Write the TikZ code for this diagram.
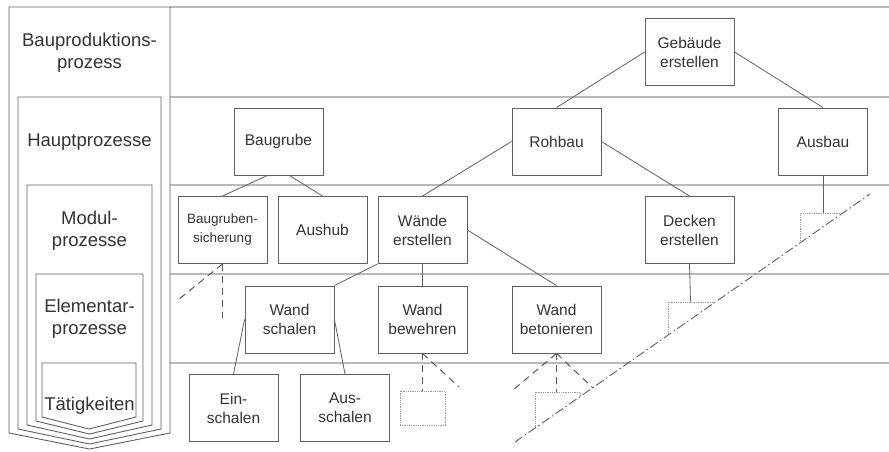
\documentclass[tikz,border=0pt]{standalone}
\usepackage{fontspec}
\setmainfont{Liberation Sans}
\usepackage{tikz}
\usetikzlibrary{
    positioning,
    calc
}

\begin{document}
\begin{tikzpicture}[x=1pt, y=-1pt,
    prozess/.style={draw=gray!75!black, line width=0.9pt, minimum width=89pt, minimum height=67pt,
        inner sep=1pt, align=center, text=black!80, font=\fontsize{15.5}{19}\selectfont},
    stub/.style={draw=gray!80, densely dotted, line width=0.8pt, minimum width=45pt, minimum height=34pt, inner sep=0pt},
    kante/.style={draw=gray!75!black, line width=0.8pt},
    offen/.style={draw=gray!70!black, line width=1pt, dash pattern=on 7pt off 5pt},
    trenn/.style={draw=gray!75!black, line width=0.9pt, dash pattern=on 9pt off 3pt on 1.5pt off 3pt},
    ebene/.style={draw=gray!55, line width=1.3pt},
    stufe/.style={draw=gray!75!black, line width=0.9pt},
    stufentext/.style={align=center, text=black!80, font=\fontsize{18.5}{22}\selectfont}]
    \useasboundingbox (0,0) rectangle (889,451);

    % Ebenen
    \foreach \y in {7,97,185,274,363} {
        \draw[ebene] (170,\y) -- (889,\y);
    }

    % verschachtelte Stufen links
    \foreach \l/\r/\t/\c/\p in {9/170/7/433/449, 18/161/97/429/444, 27/152/185/425/439, 36/143/274/421/434, 42/136/363/417/429} {
        \draw[stufe] (\l,\t) -- (\r,\t) -- (\r,\c) -- ({(\l+\r)/2},\p) -- (\l,\c) -- cycle;
    }
    \node[stufentext] (bpp) at (89.5,53) {Bauproduktions-\\prozess};
    \node[stufentext] (hp) at (89.5,142) {Hauptprozesse};
    \node[stufentext] (mp) at (89.5,231) {Modul-\\prozesse};
    \node[stufentext] (ep) at (89.5,319) {Elementar-\\prozesse};
    \node[stufentext] (tk) at (89.5,406) {Tätigkeiten};

    % Prozesse
    \node[prozess] (gebaeude) at (689.5,52) {Gebäude\\erstellen};
    \node[prozess] (baugrube) at (278.5,141.5) {Baugrube};
    \node[prozess] (rohbau) at (556.5,141.5) {Rohbau};
    \node[prozess] (ausbau) at (823,141.5) {Ausbau};
    \node[prozess, font=\fontsize{13.5}{19}\selectfont] (sicherung) at (222.5,230) {Baugruben-\\sicherung};
    \node[prozess] (aushub) at (322.5,230) {Aushub};
    \node[prozess] (waende) at (422.5,230) {Wände\\erstellen};
    \node[prozess] (decken) at (689.5,230) {Decken\\erstellen};
    \node[prozess] (schalen) at (289.5,319.5) {Wand\\schalen};
    \node[prozess] (bewehren) at (422.5,319.5) {Wand\\bewehren};
    \node[prozess] (betonieren) at (556.5,319.5) {Wand\\betonieren};
    \node[prozess] (einschalen) at (233.5,408) {Ein-\\schalen};
    \node[prozess] (ausschalen) at (345,408) {Aus-\\schalen};

    \node[stub] (bewehrenstub) at (422.5,408) {};

    % Trennlinie
    \coordinate (diagunten) at (515,442);
    \coordinate (diagoben) at (870,194);
    \draw[trenn] (diagunten) -- (diagoben);

    \begin{scope}
        \clip (diagunten) -- (diagoben) -- (870,180) -- (500,180) -- (500,442) -- cycle;
        \node[stub] (betonierenstub) at (557.5,409) {};
        \node[stub] (deckenstub) at (690.5,319) {};
        \node[stub] (ausbaustub) at (823,230) {};
    \end{scope}

    % Kanten
    \draw[kante] (gebaeude.west) -- (rohbau.north);
    \draw[kante] (gebaeude.east) -- (ausbau.north);
    \draw[kante] ([xshift=-11pt]baugrube.south) -- (sicherung.north);
    \draw[kante] ([xshift=11pt]baugrube.south) -- (aushub.north);
    \draw[kante] (rohbau.west) -- (waende.north);
    \draw[kante] (rohbau.east) -- (decken.north);
    \draw[kante] (waende.south west) -- (schalen.north east);
    \draw[kante] (waende.south) -- (bewehren.north);
    \draw[kante] (waende.east) -- (betonieren.north);
    \draw[kante] (schalen.west) -- (einschalen.north);
    \draw[kante] (schalen.east) -- (ausschalen.north);
    \draw[kante] (decken.south) -- (deckenstub.north);
    \draw[kante] (ausbau.south) -- (ausbaustub.north);

    % offene Zweige
    \coordinate (sichlinks) at (178,300);
    \coordinate (sichunten) at (222.5,318);
    \coordinate (bewrechts) at (459,387);
    \coordinate (betlinks) at (513,390);
    \coordinate (betrechts) at (593,388);
    \draw[offen] (sicherung.south) -- (sichlinks);
    \draw[offen] (sicherung.south) -- (sichunten);
    \draw[offen] (bewehren.south) -- (bewehrenstub.north);
    \draw[offen] (bewehren.south) -- (bewrechts);
    \draw[offen] (betonieren.south) -- (betlinks);
    \draw[offen] (betonieren.south) -- (betonieren.south |- betonierenstub.north);
    \draw[offen] (betonieren.south) -- (betrechts);
\end{tikzpicture}
\end{document}
